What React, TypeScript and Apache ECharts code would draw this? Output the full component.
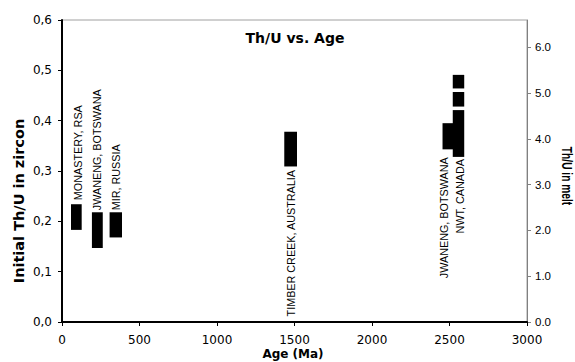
import React, { useEffect, useRef } from 'react';
import * as echarts from 'echarts';

// Age axis (Ma)
const ageTicks = [0, 500, 1000, 1500, 2000, 2500, 3000];
// Left axis: initial Th/U in zircon
const zirconTicks = [0, 0.1, 0.2, 0.3, 0.4, 0.5, 0.6];
// Right axis: Th/U in melt
const meltTicks = [0, 1, 2, 3, 4, 5, 6];
const meltMax = 6.6;

// Boxes: [age start, age end, Th/U low, Th/U high]
const boxes: number[][] = [
  [58, 127, 0.183, 0.234],
  [193, 263, 0.147, 0.218],
  [307, 387, 0.168, 0.218],
  [1434, 1516, 0.309, 0.378],
  [2455, 2523, 0.343, 0.395],
  [2521, 2595, 0.464, 0.491],
  [2521, 2595, 0.428, 0.457],
  [2521, 2595, 0.328, 0.421],
];

// Site labels: [age, Th/U at text start, name]
const siteAges = [100, 227, 347, 1477, 2466, 2566];
const siteY = [0.242, 0.222, 0.222, 0.011, 0.087, 0.176];
const siteNames = [
  'MONASTERY, RSA',
  'JWANENG, BOTSWANA',
  'MIR, RUSSIA',
  'TIMBER CREEK, AUSTRALIA',
  'JWANENG, BOTSWANA',
  'NWT, CANADA',
];

const SANS = '"Liberation Sans", Arial, sans-serif';
const WIDE = '"DejaVu Sans", sans-serif';

export default function App() {
  const ref = useRef<HTMLDivElement>(null);

  useEffect(() => {
    if (!ref.current) return;
    const chart = echarts.init(ref.current, undefined, { renderer: 'svg' });

    const option: any = {
      animation: false,
      backgroundColor: '#ffffff',
      grid: {
        left: 62,
        right: 48,
        top: 20,
        bottom: 40,
        show: true,
        borderColor: '#a0a0a0',
        borderWidth: 1,
        backgroundColor: 'transparent',
      },
      xAxis: {
        type: 'value',
        min: ageTicks[0],
        max: ageTicks[ageTicks.length - 1],
        interval: 500,
        splitLine: { show: false },
        axisLine: { show: true, onZero: false, lineStyle: { color: '#000', width: 2 } },
        axisTick: { show: true, length: 4, lineStyle: { color: '#000', width: 1 } },
        axisLabel: {
          color: '#000',
          fontSize: 12,
          fontFamily: WIDE,
          margin: 12,
          formatter: (v: number) => String(v),
        },
      },
      yAxis: [
        {
          type: 'value',
          position: 'left',
          min: zirconTicks[0],
          max: zirconTicks[zirconTicks.length - 1],
          interval: 0.1,
          splitLine: { show: false },
          axisLine: { show: true, lineStyle: { color: '#000', width: 2 } },
          axisTick: { show: true, length: 4, lineStyle: { color: '#000', width: 1 } },
          axisLabel: {
            color: '#000',
            fontSize: 12,
            fontFamily: WIDE,
            margin: 10,
            formatter: (v: number) => v.toFixed(1).replace('.', ','),
          },
        },
        {
          type: 'value',
          position: 'right',
          min: 0,
          max: meltMax,
          interval: 1,
          splitLine: { show: false },
          axisLine: { show: true, lineStyle: { color: '#808080', width: 1 } },
          axisTick: {
            show: true,
            length: 4,
            customValues: meltTicks,
            lineStyle: { color: '#808080', width: 1 },
          },
          axisLabel: {
            color: '#000',
            fontSize: 11.5,
            fontFamily: SANS,
            margin: 8,
            customValues: meltTicks,
            formatter: (v: number) =>
              Math.abs(v - Math.round(v)) < 1e-6 ? v.toFixed(1) : '',
          },
        },
      ],
      graphic: [
        {
          type: 'text',
          x: 295,
          y: 38,
          style: {
            text: 'Th/U vs. Age',
            fontSize: 14,
            fontWeight: 'bold',
            fontFamily: WIDE,
            fill: '#000',
            textAlign: 'center',
            textVerticalAlign: 'middle',
            align: 'center',
            verticalAlign: 'middle',
          },
        },
        {
          type: 'text',
          x: 19,
          y: 201,
          rotation: Math.PI / 2,
          style: {
            text: 'Initial Th/U in zircon',
            fontSize: 14.5,
            fontWeight: 'bold',
            fontFamily: WIDE,
            fill: '#000',
            textAlign: 'center',
            textVerticalAlign: 'middle',
            align: 'center',
            verticalAlign: 'middle',
          },
        },
        {
          type: 'text',
          x: 293,
          y: 354,
          style: {
            text: 'Age (Ma)',
            fontSize: 12,
            fontWeight: 'bold',
            fontFamily: WIDE,
            fill: '#000',
            textAlign: 'center',
            textVerticalAlign: 'middle',
            align: 'center',
            verticalAlign: 'middle',
          },
        },
        {
          type: 'text',
          x: 567,
          y: 176,
          rotation: -Math.PI / 2,
          scaleX: 0.68,
          style: {
            text: 'Th/U in melt',
            fontSize: 15,
            fontWeight: 'bold',
            fontFamily: SANS,
            fill: '#000',
            textAlign: 'center',
            textVerticalAlign: 'middle',
            align: 'center',
            verticalAlign: 'middle',
          },
        },
      ],
      series: [
        {
          type: 'custom',
          name: 'Th/U ranges',
          xAxisIndex: 0,
          yAxisIndex: 0,
          encode: { x: [0, 1], y: [2, 3] },
          data: boxes,
          renderItem: (params: any, api: any) => {
            const tl = api.coord([api.value(0), api.value(3)]);
            const br = api.coord([api.value(1), api.value(2)]);
            return {
              type: 'rect',
              shape: { x: tl[0], y: tl[1], width: br[0] - tl[0], height: br[1] - tl[1] },
              style: { fill: '#000' },
            };
          },
          z: 3,
        },
        {
          type: 'custom',
          name: 'Sites',
          xAxisIndex: 0,
          yAxisIndex: 0,
          encode: { x: 0, y: 1 },
          data: siteAges.map((a, i) => [a, siteY[i]]),
          renderItem: (params: any, api: any) => {
            const p = api.coord([api.value(0), api.value(1)]);
            return {
              type: 'text',
              x: p[0],
              y: p[1],
              rotation: Math.PI / 2,
              style: {
                text: siteNames[params.dataIndex],
                fontSize: 10.8,
                fontFamily: SANS,
                fill: '#000',
                textAlign: 'left',
                textVerticalAlign: 'middle',
                align: 'left',
                verticalAlign: 'middle',
              },
            };
          },
          z: 4,
        },
      ],
    };

    chart.setOption(option);
    return () => {
      chart.dispose();
    };
  }, []);

  return (
    <div
      ref={ref}
      style={{ position: 'absolute', left: 0, top: 0, width: 575, height: 362, background: '#fff' }}
    />
  );
}
